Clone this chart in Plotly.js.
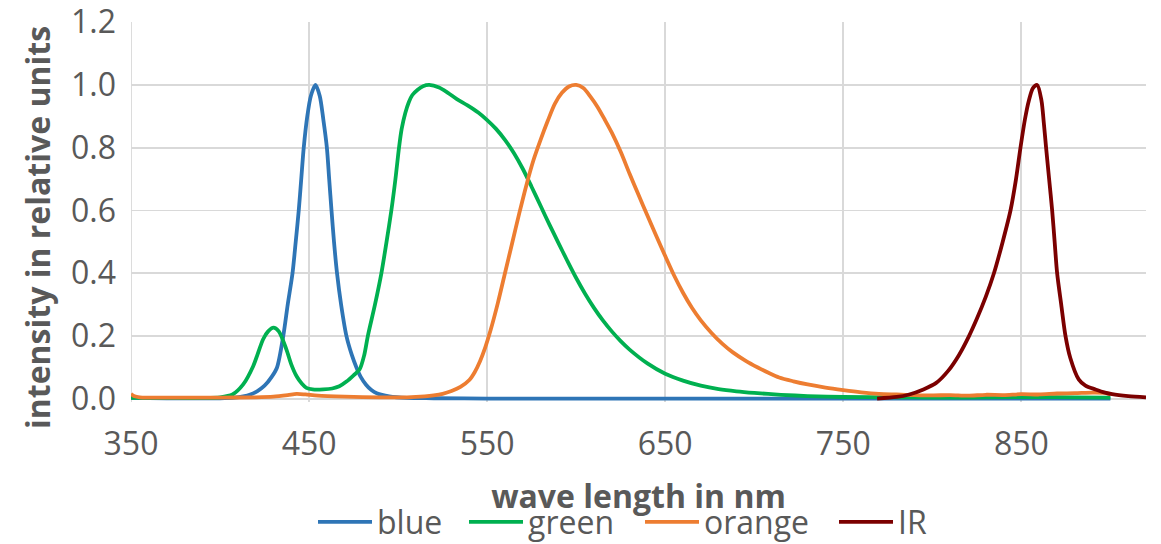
<!DOCTYPE html>
<html>
<head>
<meta charset="utf-8">
<script src="https://cdn.plot.ly/plotly-3.0.1.min.js"></script>
<style>html,body{margin:0;padding:0;background:#fff;}#chart{width:1161px;height:544px;}</style>
</head>
<body>
<div id="chart"></div>
<script>
// wavelength (nm) and relative intensity for each LED
const blueX = [350,370,390,400,408,413,417,421,425,429,432,435.5,438,440.7,442.5,444.2,445.6,447,449,451,453.6,456,458,460,461.3,462.6,464,465.7,468,471,474,476.6,479,482,485,488,495,505,520,550,600,700,800,900];
const blueY = [0.003,0.002,0.002,0.002,0.004,0.008,0.014,0.025,0.042,0.07,0.1,0.2,0.3,0.4,0.5,0.6,0.7,0.8,0.9,0.965,1.0,0.965,0.89,0.8,0.7,0.6,0.5,0.4,0.3,0.2,0.14,0.1,0.07,0.045,0.028,0.018,0.008,0.003,0.002,0.001,0.001,0.001,0.001,0.001];

const greenX = [350,370,390,400,407,413,418.6,424.2,427,430,433,437.3,440,443,446,448.5,452,458,463,467,471,475,478.4,481,483,487,490.6,493.5,496.2,498.5,500.5,502,504,506,508,511,514,517.5,523,528,533,539,545,550,555,560,565,570,575,580,585,590,595,600,605,610,615,620,625,630,640,650,660,670,680,690,700,715,730,750,780,800,830,860,880,900];
const greenY = [0.003,0.003,0.003,0.005,0.014,0.046,0.104,0.19,0.215,0.227,0.215,0.157,0.11,0.072,0.048,0.035,0.03,0.03,0.033,0.04,0.055,0.075,0.094,0.14,0.2,0.3,0.4,0.5,0.6,0.7,0.8,0.86,0.91,0.945,0.968,0.985,0.996,1.0,0.992,0.975,0.955,0.935,0.912,0.888,0.86,0.825,0.783,0.733,0.675,0.615,0.555,0.497,0.44,0.385,0.335,0.29,0.25,0.215,0.184,0.157,0.113,0.08,0.058,0.042,0.031,0.024,0.019,0.013,0.009,0.006,0.005,0.004,0.005,0.006,0.005,0.004];

const orangeX = [350,352,355,370,400,420,430,438,443,448,455,470,490,505,515,520,525,530,535,540,543,546,549,552,556,560,564,568,572,576,580,584,588,592,596,600,604,608,612,616,620,625,630,635,640,645,650,655,660,665,670,676,682,688,695,702,708,714,722,730,740,750,760,770,780,790,800,810,820,830,840,850,860,870,880,890,897,900];
const orangeY = [0.016,0.008,0.005,0.004,0.004,0.005,0.007,0.012,0.016,0.014,0.01,0.007,0.005,0.005,0.008,0.011,0.016,0.025,0.038,0.06,0.085,0.12,0.165,0.22,0.305,0.4,0.495,0.59,0.68,0.76,0.825,0.885,0.94,0.975,0.995,1.0,0.99,0.963,0.93,0.89,0.848,0.787,0.717,0.65,0.584,0.519,0.455,0.393,0.338,0.29,0.25,0.21,0.176,0.148,0.122,0.1,0.083,0.068,0.056,0.046,0.036,0.028,0.021,0.016,0.014,0.012,0.011,0.012,0.01,0.013,0.012,0.015,0.014,0.017,0.018,0.02,0.019,0.015];

const irX = [769,780,787,795,802,809,815,820.6,825,830,834.6,839.5,843.9,847,849.5,852,854.2,856.5,858.9,861.3,862.6,863.9,865.6,867.3,868.7,870.1,872.4,874.8,877.5,882.2,886,891.6,897,901,910,920];
const irY = [0.001,0.006,0.014,0.03,0.05,0.09,0.14,0.2,0.255,0.325,0.4,0.5,0.6,0.7,0.8,0.89,0.95,0.99,1.0,0.95,0.88,0.8,0.7,0.6,0.5,0.4,0.3,0.2,0.13,0.062,0.042,0.03,0.02,0.015,0.009,0.005];

const seriesNames = ["blue","green","orange","IR"];
const seriesColors = ["#2E75B6","#00B050","#ED7D31","#7B0000"];
const xTicks = [350,450,550,650,750,850];
const yTicks = [0,0.2,0.4,0.6,0.8,1.0,1.2];
const xTitle = "wave length in nm";
const yTitle = "intensity in relative units";

const FONT = "'Open Sans', 'Noto Sans', sans-serif";
const GREY = "#595959";
const xs = [blueX, greenX, orangeX, irX];
const ys = [blueY, greenY, orangeY, irY];
const legendIds = ["legend", "legend2", "legend3", "legend4"];
const legendLeftPx = [318, 469, 645, 839];   // left edge of each legend entry in the reference

const traces = seriesNames.map((n, i) => ({
  x: xs[i], y: ys[i], name: n, type: "scatter", mode: "lines",
  line: {color: seriesColors[i], width: 3.8, shape: "spline", smoothing: 0.8},
  legend: legendIds[i], hoverinfo: "skip"
}));

const plotL = 131, plotW = 1015, plotB = 402, plotH = 380;
const layout = {
  width: 1161, height: 544,
  margin: {l: plotL, r: 1161 - plotL - plotW, t: 22, b: 544 - plotB, autoexpand: false},
  paper_bgcolor: "#fff", plot_bgcolor: "#fff",
  font: {family: FONT, color: GREY, size: 32},
  showlegend: true,
  xaxis: {
    range: [350, 920], tickmode: "array", tickvals: xTicks, ticktext: xTicks.map(String),
    showgrid: true, gridcolor: "#D9D9D9", gridwidth: 1.8, zeroline: false,
    showline: false, ticks: "", ticklabelstandoff: 20, automargin: false,
    tickfont: {size: 32, color: GREY},
    title: {text: "<b>" + xTitle + "</b>", font: {size: 32, color: GREY}, standoff: 22}
  },
  yaxis: {
    range: [-0.01, 1.2005], tickmode: "array", tickvals: yTicks, ticktext: yTicks.map(v => v.toFixed(1)),
    showgrid: true, gridcolor: "#D9D9D9", gridwidth: 1.8, zeroline: false,
    showline: false, ticks: "", ticklabelstandoff: 14, automargin: false,
    ticklabeloverflow: "allow",
    tickfont: {size: 32, color: GREY}
  },
  annotations: [{
    text: "<b>" + yTitle + "</b>", textangle: -90, xref: "paper", yref: "paper",
    x: (37 - plotL) / plotW, y: (plotB - 228) / plotH, xanchor: "center", yanchor: "middle", showarrow: false,
    font: {size: 32, color: GREY}
  }],
  shapes: [{type: "line", xref: "x", yref: "paper", x0: 350, x1: 350, y0: 0, y1: 1,
            line: {color: "#D9D9D9", width: 1.8}, layer: "below"}]
};
legendIds.forEach((id, i) => {
  layout[id] = {orientation: "h", x: (legendLeftPx[i] - 5 - plotL) / plotW, xanchor: "left",
                y: (plotB - 522) / plotH, yanchor: "middle",
                font: {size: 32, color: GREY}, itemwidth: 54, bgcolor: "rgba(0,0,0,0)"};
});

Plotly.newPlot("chart", traces, layout, {displayModeBar: false, staticPlot: true});
</script>
</body>
</html>
